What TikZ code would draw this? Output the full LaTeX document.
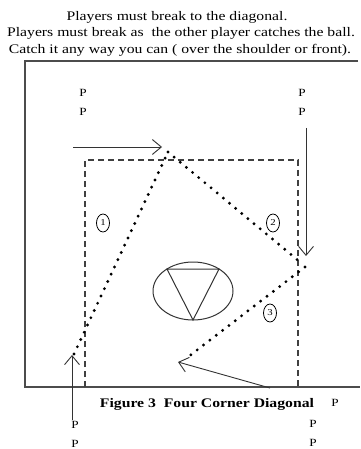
\documentclass[tikz,border=0pt]{standalone}
\usepackage{fontspec}
\setmainfont[FakeStretch=1.2]{Liberation Serif}
\usetikzlibrary{arrows.meta, shapes.geometric, positioning}

\begin{document}
\begin{tikzpicture}[x=1pt, y=-1pt,
    txt/.style={font=\fontsize{13.1}{15}\selectfont, inner sep=0pt},
    plr/.style={font=\fontsize{11}{12}\selectfont, inner sep=0pt},
    num/.style={draw, ellipse, line width=0.8pt, inner sep=0pt, minimum width=13pt,
                minimum height=18pt, font=\fontsize{9}{10}\selectfont},
    run/.style={-{Straight Barb[length=9pt, width=15pt]}, line width=0.9pt, black!80},
    pass/.style={line width=3.2pt, line cap=round, dash pattern=on 0pt off 8pt},
    lane/.style={line width=1.1pt, black!75, dash pattern=on 6pt off 4pt}
  ]
  \useasboundingbox (0,0) rectangle (360,449);

  % instructions
  \node[txt] (l1) at (177,17) {Players must break to the diagonal.};
  \node[txt] (l2) at (181,33) {Players must break as\ \ the other player catches the ball.};
  \node[txt] (l3) at (180,50) {Catch it any way you can ( over the shoulder or front).};

  % court
  \draw[line width=1.5pt, black!70] (358,61) -- (25,61) -- (25,387) -- (360,387);
  \draw[lane] (85,387) -- (85,160) -- (298,160) -- (298,387);

  % basket
  \draw[line width=1pt, black!80] (193,291) ellipse [x radius=40, y radius=29];
  \draw[line width=1pt, black!80] (167,269) -- (219,269) -- (193,320) -- cycle;

  % players
  \foreach \n/\x/\y in {tl/83/93, tr/302/93, bl/75/425, br/313/424} {
    \node[plr] (\n1) at (\x,\y) {P};
    \node[plr, below=19pt of \n1.center, anchor=center] (\n2) {P};
  }
  \node[plr] (cp) at (335,403) {P};

  \node[txt, font=\fontsize{13.1}{15}\selectfont\bfseries] (cap) at (207,404)
    {Figure 3\ \ Four Corner Diagonal};

  % breaks
  \coordinate (s1) at (73,147);  \coordinate (e1) at (162,147);
  \coordinate (s2) at (306,128); \coordinate (e2) at (306,256);
  \coordinate (s3) at (72,420);  \coordinate (e3) at (72,355);
  \coordinate (s4) at (270,388); \coordinate (e4) at (178,362);
  \draw[run] (s1) -- (e1);
  \draw[run] (s2) -- (e2);
  \draw[run] (s3) -- (e3);
  \draw[run] (s4) -- (e4);

  % passes
  \coordinate (pa) at (74,354);
  \coordinate (pb) at (168,152);
  \coordinate (pc) at (300,262);
  \coordinate (pd) at (305,267);
  \coordinate (pe) at (188,357);
  \draw[pass] (pa) -- (pb);
  \draw[pass] (pb) -- (pc);
  \draw[pass] (pd) -- (pe);

  \node[num] (n1) at (103,223) {1};
  \node[num] (n2) at (273,223) {2};
  \node[num] (n3) at (270,313) {3};
\end{tikzpicture}
\end{document}
